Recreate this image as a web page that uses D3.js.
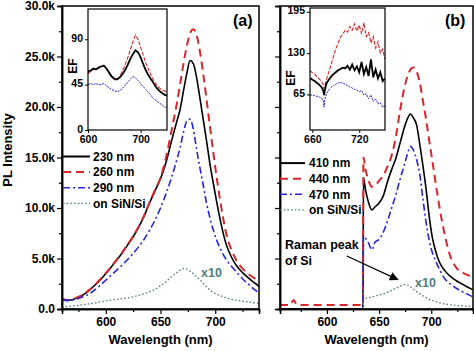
<!DOCTYPE html>
<html><head><meta charset="utf-8">
<script src="https://cdn.jsdelivr.net/npm/d3@7"></script>
<style>
html,body{margin:0;padding:0;background:#fff;}
svg{display:block;font-family:"Liberation Sans",Arial,sans-serif;font-weight:bold;}
</style></head><body>
<svg id="c" width="474" height="351"></svg>
<script>
// ---------- DATA (PL intensity in thousands) ----------
const wlA = [560,565,570,575,580,585,590,595,600,605,610,615,620,625,630,635,640,645,650,655,660,665,668,671,674,677,680,683,686,689,692,695,698,701,705,710,715,720,725,730,735,740];
const pl230 = [0.95,0.85,0.95,1.15,1.45,1.85,2.35,2.9,3.5,4.15,4.85,5.55,6.35,7.15,8.1,9.2,10.5,11.7,12.9,14.5,16.6,18.6,19.8,21.6,23.3,24.6,24.3,22.9,20.9,18.8,16.7,14.5,12.6,10.8,8.6,6.4,5.1,4.2,3.6,3.1,2.65,2.25];
const pl260 = [1.0,0.9,1.0,1.2,1.5,1.9,2.4,2.95,3.55,4.2,4.9,5.6,6.4,7.2,8.15,9.25,10.55,11.8,13.0,15.0,17.6,20.4,22.3,24.3,26.0,27.3,27.7,27.1,25.5,23.3,20.8,18.2,15.7,13.3,10.4,7.5,5.8,4.7,4.0,3.5,3.1,2.8];
const pl290 = [0.9,0.85,0.9,1.05,1.25,1.5,1.9,2.35,2.85,3.35,3.85,4.35,4.9,5.5,6.15,6.9,7.8,8.8,10.0,11.4,13.0,14.8,16.0,17.5,18.6,18.8,17.8,15.8,14.0,12.3,10.5,9.1,7.9,6.9,5.9,4.9,4.2,3.6,3.0,2.5,2.0,1.6];
const plSiNa = [0.2,0.25,0.3,0.35,0.45,0.5,0.6,0.7,0.8,0.88,0.95,1.02,1.1,1.2,1.35,1.5,1.7,1.95,2.3,2.7,3.2,3.6,3.85,4.0,3.95,3.75,3.5,3.2,2.9,2.55,2.2,1.9,1.65,1.5,1.3,1.1,0.95,0.85,0.78,0.7,0.62,0.55];

const wlB = [555,560,565,568,571,575,580,590,600,610,620,630,634.5,635,637,640,643,646,650,654,658,662,666,670,674,677,680,683,686,689,692,695,698,701,704,708,713,718,724,730,735,740];
const pl410 = [0,0,0,0,0,0,0,0,0,0,0,0,0,13.0,11.8,10.5,9.8,10.1,10.5,11.2,12.6,13.8,14.9,16.4,17.9,18.8,19.3,18.9,18.2,16.3,14.2,11.9,9.2,7.1,5.8,4.6,3.8,3.25,2.8,2.45,2.15,1.9];
const pl440 = [0.4,0.4,0.4,0.9,0.45,0.4,0.4,0.4,0.4,0.4,0.4,0.4,0.4,15.0,13.8,12.7,12.1,12.2,12.7,13.2,14.1,15.2,17.0,19.6,21.8,23.0,23.7,23.9,23.5,22.4,20.6,18.8,16.7,14.7,12.6,10.0,7.3,5.3,4.1,3.6,3.35,3.2];
const pl470 = [0,0,0,0,0,0,0,0,0,0,0,0,0,7.3,7.0,6.5,5.85,6.6,6.9,7.6,8.7,10.0,11.3,12.8,14.2,15.3,16.1,15.7,14.75,13.3,10.9,8.6,6.8,5.6,4.8,3.9,3.0,2.5,2.05,1.7,1.45,1.2];
const plSiNb = [null,null,null,null,null,null,null,null,null,null,null,null,null,null,1.05,1.12,1.2,1.28,1.38,1.5,1.65,1.85,2.05,2.25,2.42,2.4,2.2,1.95,1.72,1.5,1.3,1.12,0.95,0.85,0.75,0.62,0.5,0.42,0.35,0.3,0.27,0.25];

// inset (a): enhancement factor
const wlIA = [600,605,610,615,620,625,630,635,640,645,650,655,660,665,670,675,680,685,690,695,700,705,710,715,720,725,730,735,740,745,750];
const ef230 = [58,59,61,60,62,63,64,61,57,53,51,50,52,55,59,64,70,75,79,77,72,65,59,54,50,46,42,39,37,35,34];
const ef260 = [56,58,60,61,61,63,63,62,56,53,50,50,53,58,64,71,79,87,94,90,82,74,66,60,54,49,45,42,40,39,38];
const ef290 = [45,46,45,46,45,45,46,44,42,40,39,38,39,41,44,47,50,53,52,49,46,43,40,37,34,31,29,27,25,23,22];

// inset (b): enhancement factor
const wlIB = [657,660,663,666,669,672,674,675,676,678,681,684,687,690,693,696,699,702,705,708,711,714,717,720,723,726,729,732,735,738,741,744,747,750,753];
const ef410 = [91,88,86,83,80,76,71,64,72,82,88,93,97,100,103,105,107,106,110,104,112,103,109,100,116,97,108,94,120,92,104,90,100,86,90];
const ef440 = [103,99,97,93,89,85,80,74,78,88,100,112,125,136,146,155,160,166,163,172,166,176,165,174,160,178,156,162,146,156,138,148,130,136,120];
const ef470 = [64,64,63,62,61,59,55,45,57,66,72,76,79,81,83,84,83,81,79,77,75,73,72,69,71,64,66,58,64,54,58,50,52,45,47];

const yTicks = [0,5,10,15,20,25,30];
const yMinor = [2.5,7.5,12.5,17.5,22.5,27.5];
const xTicks = [600,650,700];
const xMinor = [575,625,675,725];
const legendA = ["230 nm","260 nm","290 nm","on SiN/Si"];
const legendB = ["410 nm","440 nm","470 nm","on SiN/Si"];
const iaYTicks = [0,45,90], iaXTicks = [600,700];
const ibYTicks = [65,130,195], ibXTicks = [660,720];
// annotation anchors in data units [wavelength, intensity k]
const x10A = [687, 3.17], x10B = [684.4, 2.2];
const ramanText = [559.8, 5.94], ramanFrom = [619, 5.25], ramanTo = [668, 2.9];

// ---------- STYLE ----------
const COL = {k:"#000", r:"#d8262b", b:"#2626d4", g:"#4a7373"};
const sty = [
  {c:COL.k, w:1.6, d:null},
  {c:COL.r, w:2.0, d:"8,5"},
  {c:COL.b, w:1.6, d:"7,3,2,3"},
  {c:COL.g, w:1.3, d:"1.5,2.2"}
];

const svg = d3.select("#c");
const defs = svg.append("defs");
defs.append("marker").attr("id","arr").attr("viewBox","0 0 10 10").attr("refX",9).attr("refY",5)
  .attr("markerWidth",7).attr("markerHeight",7).attr("orient","auto")
  .append("path").attr("d","M0,0L10,5L0,10z").attr("fill","#000");

const pTop = 6, pBot = 309;
const y = d3.scaleLinear([0,30],[pBot,pTop]);
const xA = d3.scaleLinear([560,740],[62,259]);
const xB = d3.scaleLinear([555,740],[280,473]);
const fmt = d => d===0 ? "0.0" : d.toFixed(1)+"k";

function panel(id, x, wl, series, showLabels, legend){
  const [l,r] = x.range();
  defs.append("clipPath").attr("id","clip"+id).append("rect")
    .attr("x",l).attr("y",pTop).attr("width",r-l).attr("height",pBot-pTop);
  const g = svg.append("g");
  const cg = g.append("g").attr("clip-path","url(#clip"+id+")");
  series.forEach((vals,i)=>{
    const line = d3.line().defined(d=>d[1]!=null).x(d=>x(d[0])).y(d=>y(d[1])).curve(d3.curveMonotoneX);
    cg.append("path").datum(wl.map((w,j)=>[w,vals[j]]))
      .attr("d",line).attr("fill","none").attr("stroke",sty[i].c)
      .attr("stroke-width",sty[i].w).attr("stroke-dasharray",sty[i].d)
      .attr("stroke-linejoin","round");
  });
  g.append("rect").attr("x",l).attr("y",pTop).attr("width",r-l).attr("height",pBot-pTop)
    .attr("fill","none").attr("stroke","#000").attr("stroke-width",1.5);
  const ya = g.append("g").attr("transform",`translate(${l},0)`)
    .call(d3.axisLeft(y).tickValues(yTicks).tickSize(5).tickPadding(2).tickFormat(showLabels?fmt:""));
  const ym = g.append("g").attr("transform",`translate(${l},0)`)
    .call(d3.axisLeft(y).tickValues(yMinor).tickSize(3).tickFormat(""));
  const xa = g.append("g").attr("transform",`translate(0,${pBot})`)
    .call(d3.axisBottom(x).tickValues(xTicks).tickSize(5).tickPadding(3));
  const xm = g.append("g").attr("transform",`translate(0,${pBot})`)
    .call(d3.axisBottom(x).tickValues(xMinor).tickSize(3).tickFormat(""));
  [ya,ym,xa,xm].forEach(a=>{
    a.select(".domain").attr("stroke-width",1.5);
    a.selectAll("line").attr("stroke-width",1.2);
    a.selectAll("text").attr("font-size",12).attr("font-weight","bold").attr("fill","#000")
      .attr("font-family","'Liberation Sans',Arial,sans-serif");
  });
  const lg = g.append("g");
  legend.rows.forEach((t,i)=>{
    const by = legend.y0 + i*15.6;
    lg.append("line").attr("x1",legend.x1).attr("x2",legend.x2).attr("y1",by-4.2).attr("y2",by-4.2)
      .attr("stroke",sty[i].c).attr("stroke-width",sty[i].w+(i===0?0.4:0)).attr("stroke-dasharray",sty[i].d);
    lg.append("text").attr("x",legend.tx).attr("y",by).attr("font-size",12).text(t);
  });
  svg.append("text").attr("x",(l+r)/2).attr("y",344).attr("text-anchor","middle")
    .attr("font-size",13).text("Wavelength (nm)");
  return g;
}

panel("A", xA, wlA, [pl230,pl260,pl290,plSiNa], true, {rows:legendA, x1:63, x2:90, tx:93, y0:160.7});
panel("B", xB, wlB, [pl410,pl440,pl470,plSiNb], false, {rows:legendB, x1:280, x2:305, tx:309, y0:167.3});

svg.append("text").attr("transform","translate(12,150) rotate(-90)").attr("text-anchor","middle")
  .attr("font-size",13).text("PL Intensity");
svg.append("text").attr("x",233).attr("y",26).attr("font-size",16).text("(a)");
svg.append("text").attr("x",445).attr("y",26).attr("font-size",16).text("(b)");

svg.append("text").attr("x",xA(x10A[0])).attr("y",y(x10A[1])).attr("font-size",12.5).attr("fill","#4f7d7d").text("x10");
svg.append("text").attr("x",xB(x10B[0])).attr("y",y(x10B[1])).attr("font-size",12.5).attr("fill","#4f7d7d").text("x10");
svg.append("text").attr("x",xB(ramanText[0])).attr("y",y(ramanText[1])).attr("font-size",12.5).text("Raman peak");
svg.append("text").attr("x",xB(ramanText[0])).attr("y",y(ramanText[1])+16).attr("font-size",12.5).text("of Si");
svg.append("line").attr("x1",xB(ramanFrom[0])).attr("y1",y(ramanFrom[1]))
  .attr("x2",xB(ramanTo[0])).attr("y2",y(ramanTo[1]))
  .attr("stroke","#000").attr("stroke-width",1.3).attr("marker-end","url(#arr)");

// ---------- INSETS ----------
function inset(id, x, yS, wl, series, yt, xt, efPos, lblFs){
  const [l,r] = x.range(), [b,t] = yS.range();
  const g = svg.append("g");
  g.append("rect").attr("x",l).attr("y",t).attr("width",r-l).attr("height",b-t).attr("fill","#fff");
  defs.append("clipPath").attr("id","clipI"+id).append("rect").attr("x",l).attr("y",t).attr("width",r-l).attr("height",b-t);
  const cg = g.append("g").attr("clip-path","url(#clipI"+id+")");
  const ist = [
    {c:COL.k, w:1.8, d:null},
    {c:COL.r, w:1.1, d:"4,1.5"},
    {c:COL.b, w:1.0, d:"2,1"}
  ];
  [1,0,2].forEach(i=>{
    const vals = series[i];
    cg.append("path").datum(wl.map((w,j)=>[w,vals[j]]))
      .attr("d",d3.line().x(d=>x(d[0])).y(d=>yS(d[1])))
      .attr("fill","none").attr("stroke",ist[i].c).attr("stroke-width",ist[i].w)
      .attr("stroke-dasharray",ist[i].d);
  });
  g.append("rect").attr("x",l).attr("y",t).attr("width",r-l).attr("height",b-t)
    .attr("fill","none").attr("stroke","#000").attr("stroke-width",1.2);
  const ya = g.append("g").attr("transform",`translate(${l},0)`)
    .call(d3.axisLeft(yS).tickValues(yt).tickSize(3).tickPadding(2));
  const xa = g.append("g").attr("transform",`translate(0,${b})`)
    .call(d3.axisBottom(x).tickValues(xt).tickSize(3).tickPadding(3));
  [ya,xa].forEach(a=>{
    a.select(".domain").remove();
    a.selectAll("text").attr("font-size",lblFs).attr("font-weight","bold").attr("fill","#000")
      .attr("font-family","'Liberation Sans',Arial,sans-serif");
  });
  ya.selectAll("text").attr("dy","0.2em");
  g.append("text").attr("transform",`translate(${efPos[0]},${efPos[1]}) rotate(-90)`)
    .attr("text-anchor","middle").attr("font-size",12).text("EF");
}
const xIA = d3.scaleLinear([600,750],[88,167]);
const yIA = d3.scaleLinear([0,120],[130,9]);
inset("A", xIA, yIA, wlIA, [ef230,ef260,ef290], iaYTicks, iaXTicks, [77,66], 10.5);
const xIB = d3.scaleLinear([657,753],[310,385]);
const yIB = d3.scaleLinear([9,201],[130,8]);
inset("B", xIB, yIB, wlIB, [ef410,ef440,ef470], ibYTicks, ibXTicks, [295,78], 10.5);
</script>
</body></html>
